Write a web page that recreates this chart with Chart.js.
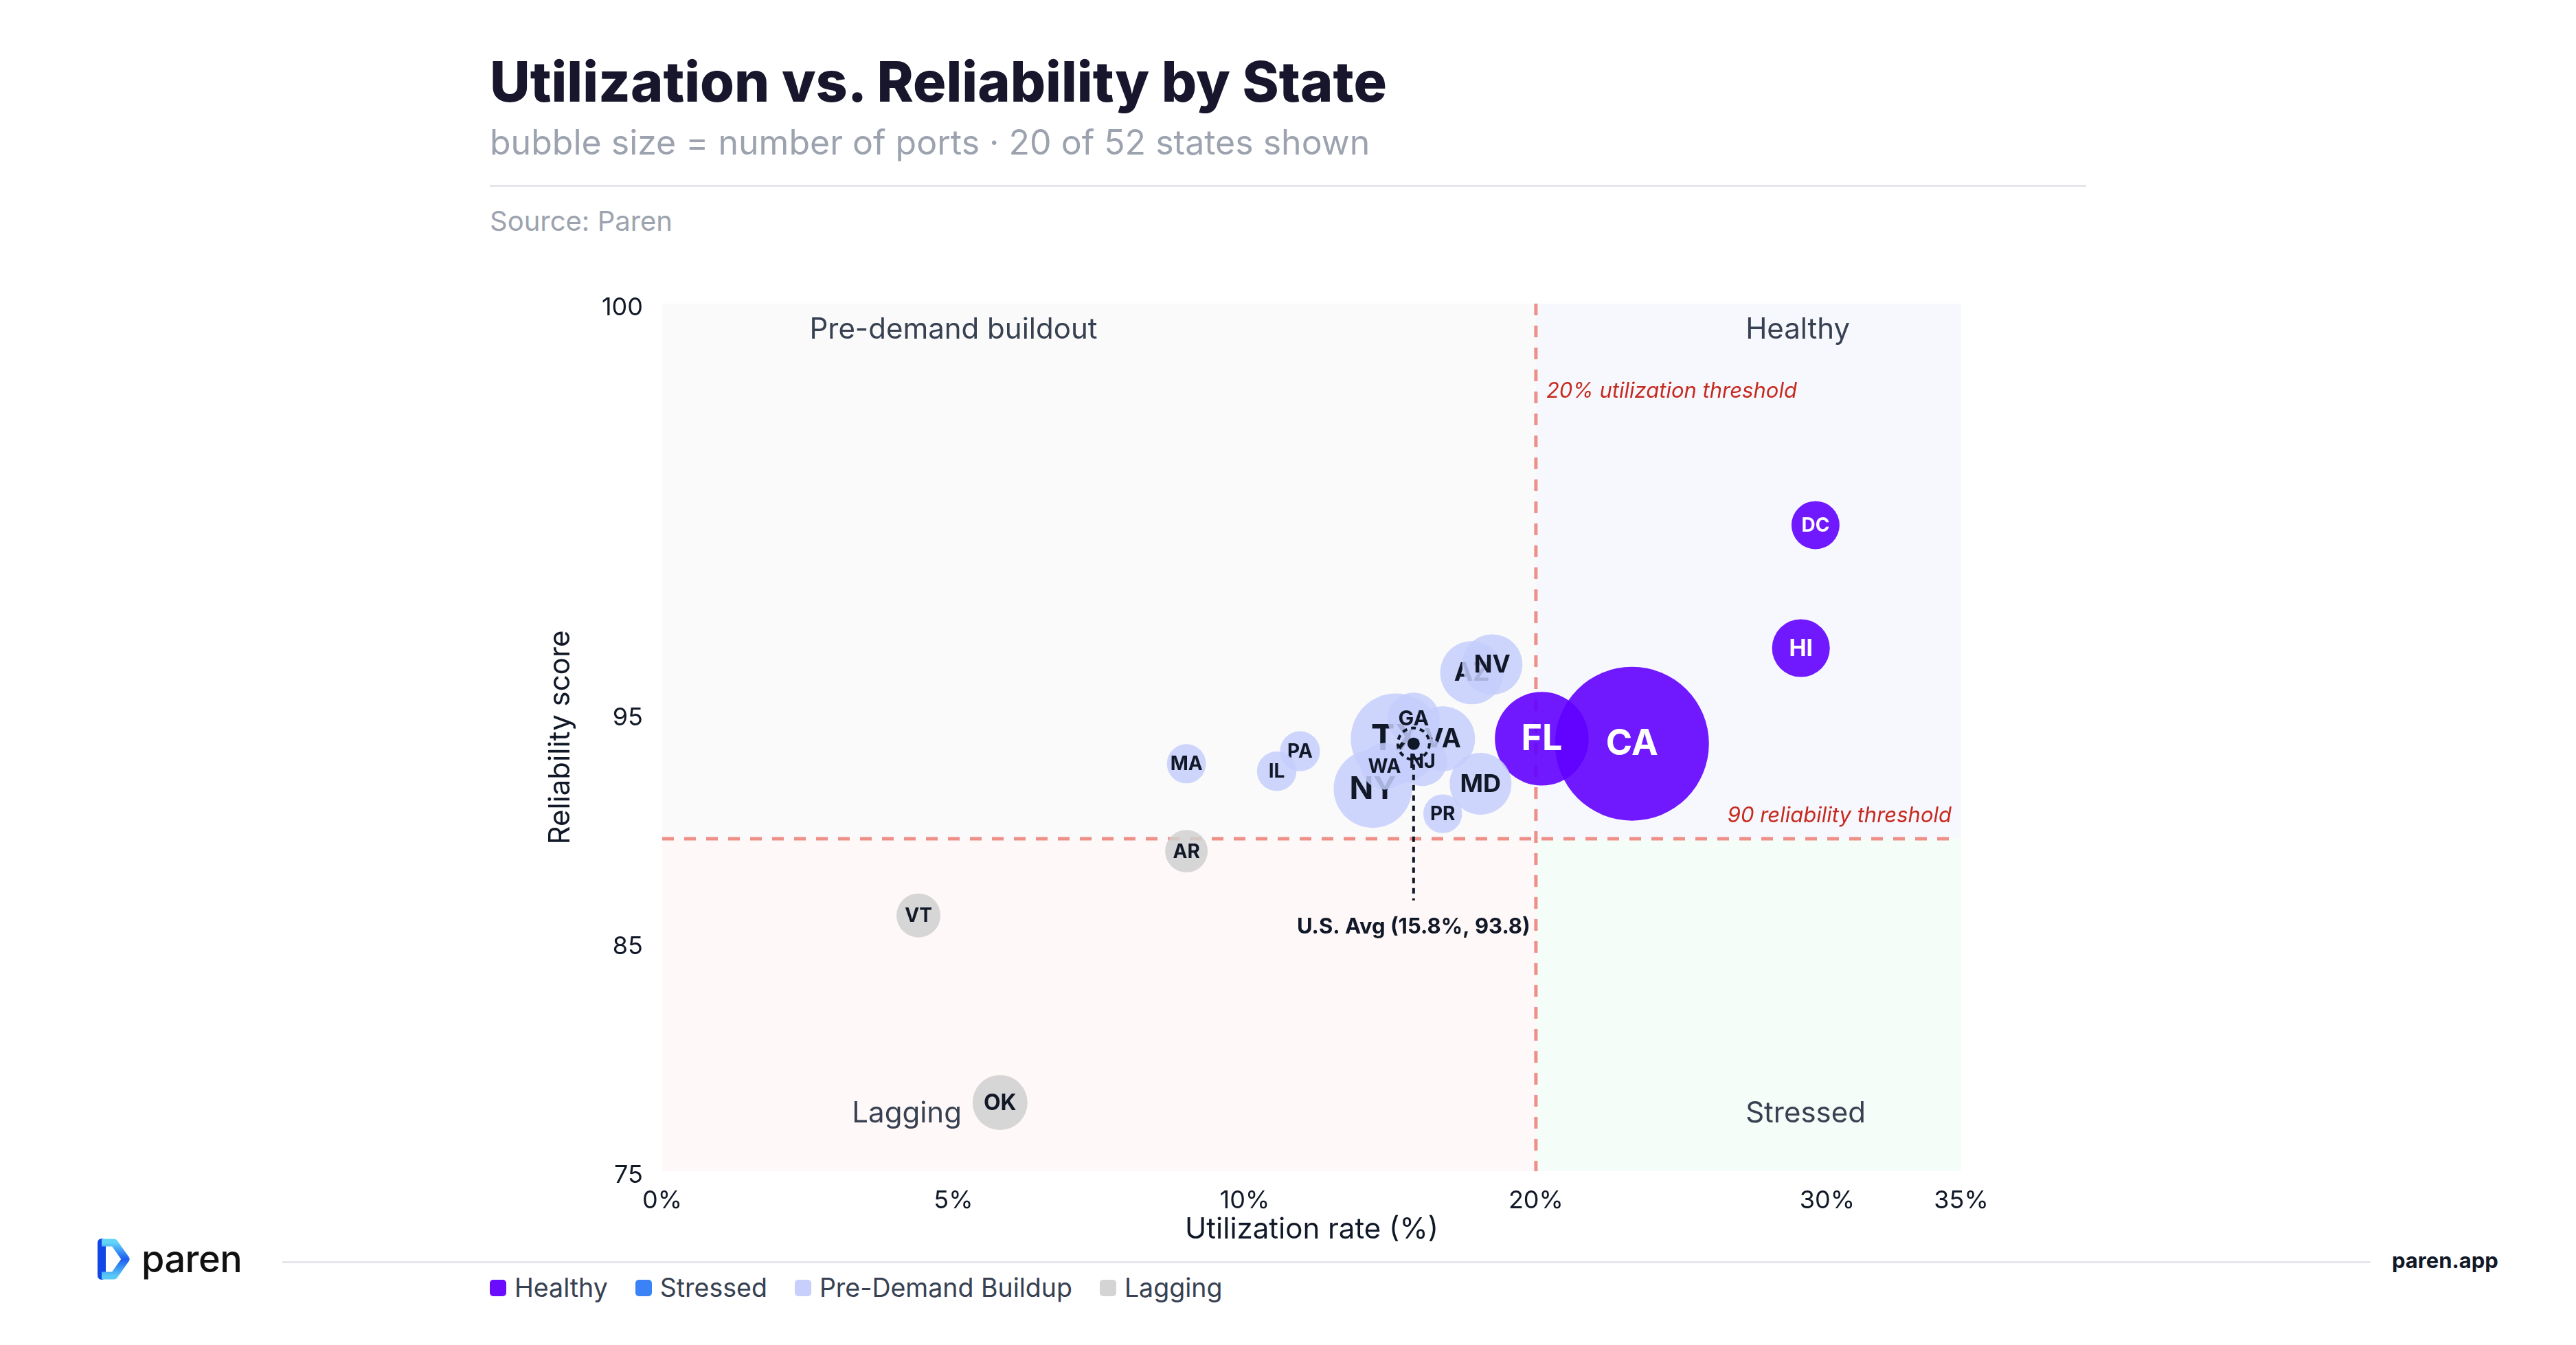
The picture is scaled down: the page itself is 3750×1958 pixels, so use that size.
<!DOCTYPE html>
<html lang="en">
  <head>
    <meta charset="UTF-8" />
    <title>Utilization vs. Reliability by State</title>
    <script src="https://cdn.jsdelivr.net/npm/chart.js"></script>
    <style>
      html, body { margin: 0; padding: 0; background: #ffffff; }
      body {
        width: 3750px; height: 1958px; position: relative; overflow: hidden;
        font-family: Inter, "Noto Sans", sans-serif;
      }
      .titulo {
        position: absolute; left: 713px; top: 78px;
        font-size: 80.7px; line-height: 82px; font-weight: 800; color: #17162c;
        white-space: nowrap;
      }
      .subtitulo {
        position: absolute; left: 713px; top: 182px;
        font-size: 50px; line-height: 50px; color: #9ca3af; white-space: nowrap;
      }
      .regua { position: absolute; left: 713px; top: 269px; width: 2324px; height: 3px; background: #e5e7eb; }
      .fonte {
        position: absolute; left: 713px; top: 302px;
        font-size: 40px; line-height: 40px; color: #9ca3af;
      }
      #grafico { position: absolute; left: 700px; top: 380px; }
      .logo { position: absolute; left: 136px; top: 1801px; height: 64px; display: flex; align-items: center; }
      .logo span { font-size: 54px; line-height: 54px; font-weight: 500; color: #111111; margin-left: 14px; letter-spacing: -0.5px; }
      .rodape { position: absolute; left: 411px; top: 1836px; width: 3040px; height: 3px; background: #e5e7eb; }
      .site {
        position: absolute; left: 3482px; top: 1819px;
        font-size: 31px; line-height: 31px; font-weight: 700; color: #111827;
      }
      .legenda {
        position: absolute; left: 713px; top: 1857px; height: 36px;
        display: flex; align-items: center; gap: 40px;
        font-size: 37.5px; line-height: 36px; color: #374151;
      }
      .legenda .item { display: flex; align-items: center; }
      .legenda .cor { width: 24px; height: 24px; border-radius: 5px; margin-right: 12px; }
    </style>
  </head>
  <body>
    <div class="titulo">Utilization vs. Reliability by State</div>
    <div class="subtitulo">bubble size = number of ports · 20 of 52 states shown</div>
    <div class="regua"></div>
    <div class="fonte">Source: Paren</div>

    <canvas id="grafico" width="2300" height="1440"></canvas>

    <div class="logo">
      <svg width="56" height="64" viewBox="0 0 56 64">
        <defs>
          <linearGradient id="lg" x1="0" y1="0" x2="0" y2="1">
            <stop offset="0" stop-color="#63d4f7" />
            <stop offset="0.5" stop-color="#1d5cf0" />
            <stop offset="1" stop-color="#58c8f6" />
          </linearGradient>
        </defs>
        <path d="M12 8 L12 56" stroke="#1346e6" stroke-width="12" stroke-linecap="round" />
        <path d="M12 8 L30 8 L47 32 L30 56 L12 56" fill="none" stroke="url(#lg)" stroke-width="11" stroke-linejoin="round" />
      </svg>
      <span>paren</span>
    </div>
    <div class="rodape"></div>
    <div class="site">paren.app</div>
    <div class="legenda" id="legenda"></div>

    <script>
      // dados
      const states = ["CA", "FL", "TX", "NY", "VA", "AZ", "MD", "NV", "HI", "OK",
                      "GA", "NJ", "DC", "WA", "VT", "AR", "PA", "IL", "MA", "PR"];
      const utilization = [23.3, 20.2, 15.2, 14.4, 16.8, 17.8, 18.1, 18.5, 29.1, 5.8,
                           15.8, 16.1, 29.6, 14.8, 4.4, 9.0, 11.9, 11.1, 9.0, 16.8];
      const reliability = [93.8, 94.0, 94.0, 92.0, 94.0, 95.5, 92.2, 95.6, 95.8, 78.0,
                           94.8, 93.1, 97.3, 92.9, 86.3, 89.4, 93.5, 92.7, 93.0, 91.0];
      const ports = [17000, 6300, 5900, 4400, 3000, 2870, 2740, 2620, 2400, 2170,
                     1960, 1760, 1660, 1560, 1390, 1300, 1150, 1120, 1100, 1080];
      // 0 Healthy, 1 Stressed, 2 Pre-Demand Buildup, 3 Lagging
      const category = [0, 0, 2, 2, 2, 2, 2, 2, 0, 3,
                        2, 2, 0, 2, 3, 3, 2, 2, 2, 2];
      const categories = ["Healthy", "Stressed", "Pre-Demand Buildup", "Lagging"];

      const avgUtilization = 15.8;
      const avgReliability = 93.8;
      const utilThreshold = 20;
      const reliabilityThreshold = 90;

      const xTicks = [0, 5, 10, 20, 30, 35];
      const yTicks = [75, 85, 95, 100];

      // cores
      const legendColors = ["#6a0dff", "#3b82f6", "#c7d0fb", "#d4d4d4"];
      const bubbleColors = ["rgba(96, 0, 255, 0.9)", "rgba(59, 130, 246, 0.9)",
                            "rgba(196, 206, 252, 0.85)", "rgba(208, 208, 208, 0.85)"];

      // legenda em html
      const legenda = document.getElementById("legenda");
      categories.forEach(function (nome, i) {
        const item = document.createElement("div");
        item.className = "item";
        item.innerHTML = '<div class="cor" style="background:' + legendColors[i] + '"></div>' + nome;
        legenda.appendChild(item);
      });

      // escala linear por trechos (os eixos do original não são lineares)
      class PiecewiseScale extends Chart.LinearScale {
        buildTicks() {
          return this.options.tickValues.map(function (v) { return { value: v }; });
        }
        toDecimal(v) {
          const s = this.options.stops;
          const f = this.options.fractions;
          if (v <= s[0]) return f[0];
          for (let i = 1; i < s.length; i++) {
            if (v <= s[i]) {
              return f[i - 1] + (v - s[i - 1]) / (s[i] - s[i - 1]) * (f[i] - f[i - 1]);
            }
          }
          return f[f.length - 1];
        }
        getPixelForValue(v) {
          if (v === null || v === undefined || isNaN(v)) return NaN;
          return this.getPixelForDecimal(this.toDecimal(v));
        }
        getValueForPixel(p) {
          const d = this.getDecimalForPixel(p);
          const s = this.options.stops;
          const f = this.options.fractions;
          for (let i = 1; i < f.length; i++) {
            if (d <= f[i]) {
              return s[i - 1] + (d - f[i - 1]) / (f[i] - f[i - 1]) * (s[i] - s[i - 1]);
            }
          }
          return s[s.length - 1];
        }
      }
      PiecewiseScale.id = "piecewise";
      Chart.register(PiecewiseScale);

      const maxPorts = Math.max.apply(null, ports);

      const datasets = states.map(function (st, i) {
        return {
          label: st,
          data: [{ x: utilization[i], y: reliability[i], r: 112 * Math.sqrt(ports[i] / maxPorts) }],
          backgroundColor: bubbleColors[category[i]],
          borderWidth: 0,
          order: ports[i], // maiores desenhadas primeiro
        };
      });

      // fundo dos quadrantes, linhas de limite e rótulos das zonas
      const quadrantes = {
        id: "quadrantes",
        beforeDatasetsDraw(chart) {
          const ctx = chart.ctx;
          const a = chart.chartArea;
          const xs = chart.scales.x;
          const ys = chart.scales.y;
          const tx = xs.getPixelForValue(utilThreshold);
          const ty = ys.getPixelForValue(reliabilityThreshold);

          ctx.save();
          ctx.fillStyle = "#fafafa";
          ctx.fillRect(a.left, a.top, tx - a.left, ty - a.top);
          ctx.fillStyle = "#f7f8fe";
          ctx.fillRect(tx, a.top, a.right - tx, ty - a.top);
          ctx.fillStyle = "#fff8f8";
          ctx.fillRect(a.left, ty, tx - a.left, a.bottom - ty);
          ctx.fillStyle = "#f4fdf7";
          ctx.fillRect(tx, ty, a.right - tx, a.bottom - ty);

          ctx.strokeStyle = "#ef9088";
          ctx.lineWidth = 5;
          ctx.setLineDash([17, 15]);
          ctx.beginPath();
          ctx.moveTo(tx, a.top);
          ctx.lineTo(tx, a.bottom);
          ctx.stroke();
          ctx.beginPath();
          ctx.moveTo(a.left, ty);
          ctx.lineTo(a.right - 14, ty);
          ctx.stroke();
          ctx.setLineDash([]);

          ctx.font = "400 42px Inter";
          ctx.fillStyle = "#374151";
          ctx.textBaseline = "middle";
          ctx.textAlign = "center";
          ctx.fillText("Pre-demand buildout", xs.getPixelForValue(5), a.top + 38);
          ctx.fillText("Lagging", xs.getPixelForValue(4.2), a.bottom - 84);
          ctx.textAlign = "left";
          ctx.fillText("Healthy", xs.getPixelForValue(27.2), a.top + 38);
          ctx.fillText("Stressed", xs.getPixelForValue(27.2), a.bottom - 84);

          ctx.font = "italic 400 31px Inter";
          ctx.fillStyle = "#c62a1f";
          ctx.fillText(utilThreshold + "% utilization threshold", tx + 15, a.top + 128);
          ctx.textAlign = "right";
          ctx.fillText(reliabilityThreshold + " reliability threshold", a.right - 14, ty - 33);
          ctx.restore();
        },
      };

      // sigla de cada estado, logo depois da sua bolha
      const siglas = {
        id: "siglas",
        afterDatasetDraw(chart, args) {
          const ctx = chart.ctx;
          const i = args.index;
          const el = args.meta.data[0];
          const r = chart.data.datasets[i].data[0].r;
          const fs = Math.max(28, Math.min(52, r * 0.8));
          ctx.save();
          ctx.font = "700 " + fs + "px Inter";
          ctx.fillStyle = category[i] === 0 ? "#ffffff" : "#111827";
          ctx.textAlign = "center";
          ctx.textBaseline = "middle";
          ctx.fillText(states[i], el.x, el.y + 1);
          ctx.restore();
        },
      };

      // marcador da média nacional
      const media = {
        id: "media",
        afterDatasetsDraw(chart) {
          const ctx = chart.ctx;
          const x = chart.scales.x.getPixelForValue(avgUtilization);
          const y = chart.scales.y.getPixelForValue(avgReliability);
          ctx.save();
          ctx.strokeStyle = "#111827";
          ctx.fillStyle = "#111827";
          ctx.lineWidth = 4;
          ctx.setLineDash([8, 7]);
          ctx.beginPath();
          ctx.moveTo(x, y);
          ctx.lineTo(x, y + 228);
          ctx.stroke();
          ctx.setLineDash([7, 6]);
          ctx.beginPath();
          ctx.arc(x, y, 23, 0, Math.PI * 2);
          ctx.stroke();
          ctx.setLineDash([]);
          ctx.beginPath();
          ctx.arc(x, y, 9, 0, Math.PI * 2);
          ctx.fill();
          ctx.font = "700 31px Inter";
          ctx.textAlign = "center";
          ctx.textBaseline = "middle";
          ctx.fillText("U.S. Avg (" + avgUtilization + "%, " + avgReliability + ")", x, y + 267);
          ctx.restore();
        },
      };

      const config = {
        type: "bubble",
        data: { datasets: datasets },
        options: {
          responsive: false,
          animation: false,
          events: [],
          layout: {
            autoPadding: false, // sem isso a bolha maior empurra a área do gráfico
            padding: { left: 0, right: 145, top: 62, bottom: 0 },
          },
          plugins: {
            legend: { display: false },
            tooltip: { enabled: false },
          },
          scales: {
            x: {
              type: "piecewise",
              min: 0,
              max: 35,
              stops: xTicks,
              fractions: [0, 0.2242, 0.4484, 0.6726, 0.8968, 1],
              tickValues: xTicks,
              grid: { display: false, drawTicks: false },
              border: { display: false },
              ticks: {
                padding: 22,
                autoSkip: false,
                maxRotation: 0,
                color: "#111827",
                font: { family: "Inter", size: 36 },
                callback: function (v) { return v + "%"; },
              },
              title: {
                display: true,
                text: "Utilization rate (%)",
                color: "#111827",
                font: { family: "Inter", size: 42 },
                padding: { top: 0, bottom: 4 },
              },
              afterFit: function (s) {
                s.height = 115;
                s.paddingLeft = 0;
                s.paddingRight = 0;
              },
            },
            y: {
              type: "piecewise",
              min: 75,
              max: 100,
              stops: [75, 85, 90, 95, 100],
              fractions: [0, 0.2637, 0.3832, 0.5273, 1],
              tickValues: yTicks,
              grid: { display: false, drawTicks: false },
              border: { display: false },
              ticks: {
                padding: 28,
                labelOffset: 6,
                autoSkip: false,
                color: "#111827",
                font: { family: "Inter", size: 36 },
                callback: function (v) { return v; },
              },
              title: {
                display: true,
                text: "Reliability score",
                color: "#111827",
                font: { family: "Inter", size: 42 },
                padding: { top: 91, bottom: 0 },
              },
              afterFit: function (s) {
                s.width = 264;
                s.paddingTop = 0;
                s.paddingBottom = 0;
              },
            },
          },
        },
        plugins: [quadrantes, siglas, media],
      };

      let myChart = new Chart(document.getElementById("grafico"), config);
    </script>
  </body>
</html>
